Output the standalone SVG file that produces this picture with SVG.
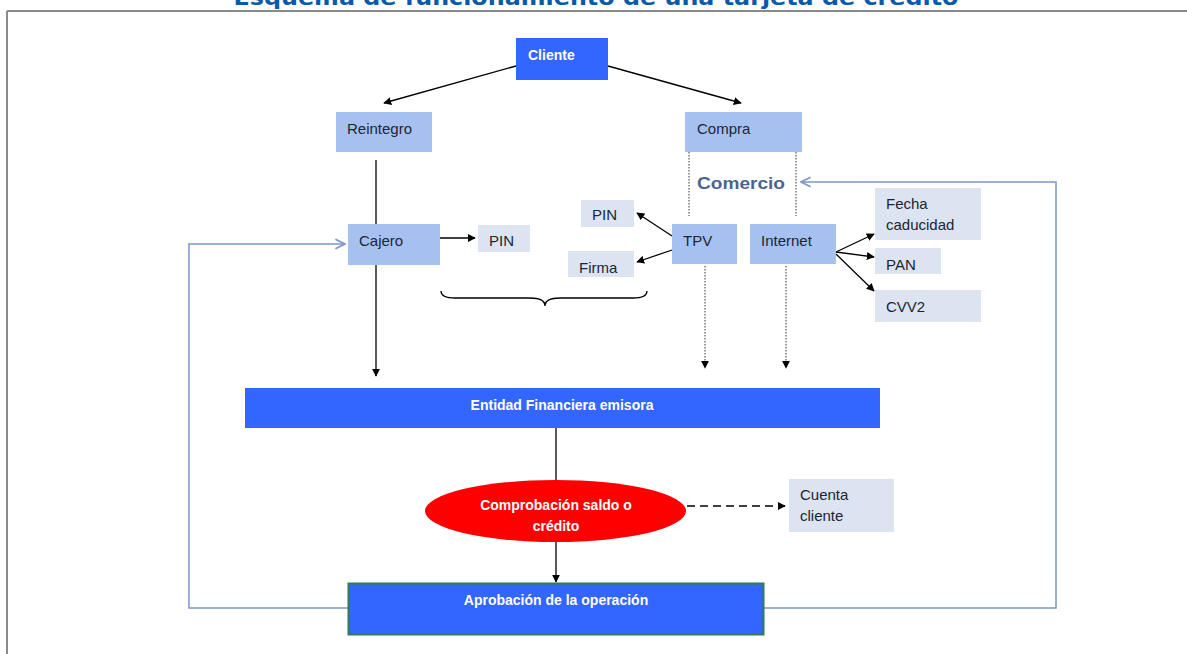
<svg xmlns="http://www.w3.org/2000/svg" width="1187" height="654" viewBox="0 0 1187 654">
<defs>
<style>
.t{font-family:"Liberation Sans",Arial,sans-serif;font-size:15px;fill:#1c2535}
.w{font-family:"Liberation Sans",Arial,sans-serif;font-size:14px;font-weight:bold;fill:#ffffff}
.dark{fill:#3366ff}
.lb{fill:#a6c1f0}
.gb{fill:#dbe4f0}
.ln{stroke:#000;stroke-width:1.3;fill:none}
.dot{stroke:#333;stroke-width:1;stroke-dasharray:1.5 1.5;fill:none}
.fb{stroke:#7b97c9;stroke-width:1.5;fill:none}
</style>
<marker id="ah" viewBox="0 0 10 10" refX="9" refY="5" markerWidth="8" markerHeight="8" markerUnits="userSpaceOnUse" orient="auto"><path d="M0,0 L10,5 L0,10 z" fill="#000"/></marker>
<marker id="oh" viewBox="0 0 10 10" refX="9" refY="5" markerWidth="12" markerHeight="12" markerUnits="userSpaceOnUse" orient="auto"><path d="M1,1 L9,5 L1,9" fill="none" stroke="#7b97c9" stroke-width="1.4"/></marker>
</defs>
<rect width="1187" height="654" fill="#fff"/>
<text x="596" y="5" text-anchor="middle" font-family="DejaVu Sans,Verdana,sans-serif" font-weight="bold" font-size="21" fill="#0b5aa8" textLength="725" lengthAdjust="spacingAndGlyphs">Esquema de funcionamiento de una tarjeta de crédito</text>
<path d="M7,11 H1187 M7,11 V654" stroke="#8a8a8a" stroke-width="2" fill="none"/>

<g id="connectors">
<line class="ln" x1="516" y1="66" x2="384" y2="103" marker-end="url(#ah)"/>
<line class="ln" x1="608" y1="66" x2="741" y2="103" marker-end="url(#ah)"/>
<line class="ln" x1="376" y1="160" x2="376" y2="224"/>
<line class="ln" x1="376" y1="265" x2="376" y2="376" marker-end="url(#ah)"/>
<line class="ln" x1="440" y1="238" x2="475" y2="238" marker-end="url(#ah)"/>
<line class="ln" x1="672" y1="236" x2="637" y2="213" marker-end="url(#ah)"/>
<line class="ln" x1="672" y1="250" x2="637" y2="262" marker-end="url(#ah)"/>
<line class="ln" x1="836" y1="252" x2="874" y2="234" marker-end="url(#ah)"/>
<line class="ln" x1="836" y1="252" x2="874" y2="257" marker-end="url(#ah)"/>
<line class="ln" x1="836" y1="254" x2="874" y2="291" marker-end="url(#ah)"/>
<path class="dot" d="M689,152 V216 M796,152 V216"/>
<line class="dot" x1="705" y1="266" x2="705" y2="368" marker-end="url(#ah)"/>
<line class="dot" x1="786" y1="266" x2="786" y2="368" marker-end="url(#ah)"/>
<path d="M441,291 Q441,298 455,298 L530,298 Q545,298 545,306 Q545,298 560,298 L633,298 Q647,298 647,291" stroke="#000" stroke-width="1.3" fill="none"/>
<line class="ln" x1="556" y1="428" x2="556" y2="481"/>
<line class="ln" x1="556" y1="542" x2="556" y2="582" marker-end="url(#ah)"/>
<line x1="687" y1="506" x2="785" y2="506" stroke="#000" stroke-width="1.3" stroke-dasharray="8 5" marker-end="url(#ah)"/>
<path class="fb" d="M348,608 H189 V244 H345" marker-end="url(#oh)"/>
<path class="fb" d="M764,608 H1056 V182 H801" marker-end="url(#oh)"/>
</g>

<g id="cliente"><rect class="dark" x="516" y="38" width="92" height="42"/><text class="w" x="528" y="60">Cliente</text></g>
<g id="reintegro"><rect class="lb" x="336" y="112" width="96" height="40"/><text class="t" x="347" y="134">Reintegro</text></g>
<g id="compra"><rect class="lb" x="685" y="112" width="117" height="40"/><text class="t" x="697" y="134">Compra</text></g>
<g id="comercio"><text x="697" y="189" font-family="Liberation Sans,Arial,sans-serif" font-weight="bold" font-size="17" fill="#4a6491" textLength="88" lengthAdjust="spacingAndGlyphs">Comercio</text></g>
<g id="cajero"><rect class="lb" x="348" y="224" width="92" height="41"/><text class="t" x="359" y="246">Cajero</text></g>
<g id="pin1"><rect class="gb" x="478" y="225" width="52" height="27"/><text class="t" x="489" y="246">PIN</text></g>
<g id="pin2"><rect class="gb" x="581" y="200" width="53" height="27"/><text class="t" x="592" y="220">PIN</text></g>
<g id="firma"><rect class="gb" x="568" y="251" width="66" height="26"/><text class="t" x="579" y="273">Firma</text></g>
<g id="tpv"><rect class="lb" x="672" y="224" width="65" height="40"/><text class="t" x="683" y="246">TPV</text></g>
<g id="internet"><rect class="lb" x="750" y="224" width="86" height="40"/><text class="t" x="761" y="246">Internet</text></g>
<g id="fecha"><rect class="gb" x="875" y="188" width="106" height="52"/><text class="t" x="886" y="209">Fecha</text><text class="t" x="886" y="230">caducidad</text></g>
<g id="pan"><rect class="gb" x="875" y="248" width="66" height="26"/><text class="t" x="886" y="270">PAN</text></g>
<g id="cvv2"><rect class="gb" x="875" y="290" width="106" height="32"/><text class="t" x="886" y="312">CVV2</text></g>
<g id="entidad"><rect class="dark" x="245" y="388" width="635" height="40"/><text class="w" x="562" y="410" text-anchor="middle">Entidad Financiera emisora</text></g>
<g id="comprobacion"><ellipse cx="555.5" cy="511" rx="130.5" ry="31" fill="#ff0000"/><text class="w" x="556" y="510" text-anchor="middle">Comprobación saldo o</text><text class="w" x="556" y="531" text-anchor="middle">crédito</text></g>
<g id="cuenta"><rect class="gb" x="789" y="479" width="105" height="53"/><text class="t" x="800" y="500">Cuenta</text><text class="t" x="800" y="521">cliente</text></g>
<g id="aprobacion"><rect class="dark" x="348.5" y="583.5" width="415" height="51" stroke="#2e7d4f" stroke-width="2"/><text class="w" x="556" y="605" text-anchor="middle">Aprobación de la operación</text></g>
</svg>
